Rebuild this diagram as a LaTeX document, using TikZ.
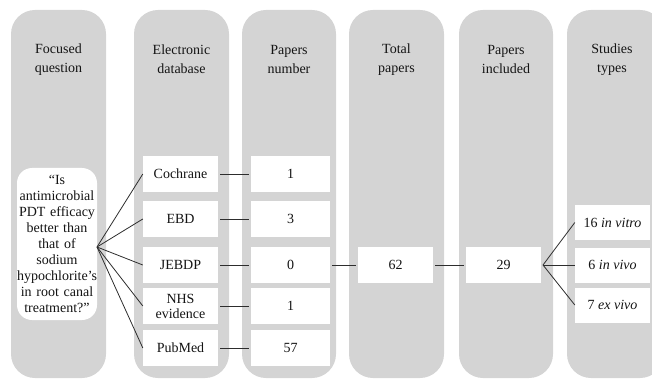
\documentclass[tikz,border=0pt]{standalone}
\usepackage{fontspec}
\setmainfont{Liberation Serif}
\definecolor{colgray}{RGB}{212,212,212}
\definecolor{inkc}{RGB}{20,20,20}
\definecolor{linec}{RGB}{45,45,45}
\begin{document}
\begin{tikzpicture}[x=1pt,y=-1pt,
  column/.style={fill=colgray,draw=none,rounded corners=24pt},
  header/.style={align=center,font=\fontsize{14}{19}\selectfont,text=inkc},
  whitebox/.style={fill=white,draw=none,minimum width=75pt,minimum height=36pt,inner sep=1pt,
     align=center,font=\fontsize{14}{16}\selectfont,text=inkc},
  numbox/.style={whitebox,minimum width=79pt},
  link/.style={draw=linec,line width=0.8pt},
  gap/.style={link,shorten <=2pt,shorten >=2pt}]
\useasboundingbox (0,0) rectangle (652,379);
\clip (0,0) rectangle (652,379);
% columns
\fill[column] (11,10) rectangle (106,378);
\fill[column] (134,10) rectangle (229,378);
\fill[column] (242,10) rectangle (336,378);
\fill[column] (349,10) rectangle (444,378);
\fill[column] (459,10) rectangle (553,378);
\fill[column] (567,10) rectangle (664,378);
% headers
\node[header] (h1) at (58.5,59.5) {Focused\\question};
\node[header] (h2) at (181.5,59.5) {Electronic\\database};
\node[header] (h3) at (289,59.5) {Papers\\number};
\node[header] (h4) at (396.5,59.5) {Total\\papers};
\node[header] (h5) at (506,59.5) {Papers\\included};
\node[header] (h6) at (612,59.5) {Studies\\types};
% question
\node[fill=white,rounded corners=15pt,minimum width=80pt,minimum height=152pt,inner sep=0pt,
  align=center,text width=80pt,font=\fontsize{14}{16}\selectfont,text=inkc] (q) at (57,244)
  {“Is\\antimicrobial\\PDT efficacy\\better than\\that of\\sodium\\hypochlorite’s\\in root canal\\treatment?”};
% databases
\node[whitebox] (d1) at (180.5,174) {Cochrane};
\node[whitebox] (d2) at (180.5,219) {EBD};
\node[whitebox] (d3) at (180.5,265) {JEBDP};
\node[whitebox,font=\fontsize{14}{15}\selectfont] (d4) at (180.5,306) {NHS\\evidence};
\node[whitebox] (d5) at (180.5,348) {PubMed};
% numbers
\node[numbox] (n1) at (290.5,174) {1};
\node[numbox] (n2) at (290.5,219) {3};
\node[numbox] (n3) at (290.5,265) {0};
\node[numbox] (n4) at (290.5,306) {1};
\node[numbox] (n5) at (290.5,348) {57};
% totals
\node[whitebox] (t) at (395.5,265) {62};
\node[whitebox] (p) at (503.5,265) {29};
% studies
\node[whitebox,minimum height=35pt] (s1) at (612.5,222.5) {16 \textit{in vitro}};
\node[whitebox,minimum height=35pt] (s2) at (612.5,265) {6 \textit{in vivo}};
\node[whitebox,minimum height=35pt] (s3) at (612.5,305) {7 \textit{ex vivo}};
% connectors
\coordinate (qf) at (97,247);
\foreach \i in {1,...,5} {
  \draw[link] (qf) -- (d\i.west);
  \draw[gap] (d\i.east) -- (n\i.west);
}
\draw[gap] (n3.east) -- (t.west);
\draw[gap] (t.east) -- (p.west);
\coordinate (pf) at (543,265);
\draw[link] (pf) -- (s1.west);
\draw[link] (pf) -- (s2.west);
\draw[link] (pf) -- (s3.west);
\end{tikzpicture}
\end{document}
